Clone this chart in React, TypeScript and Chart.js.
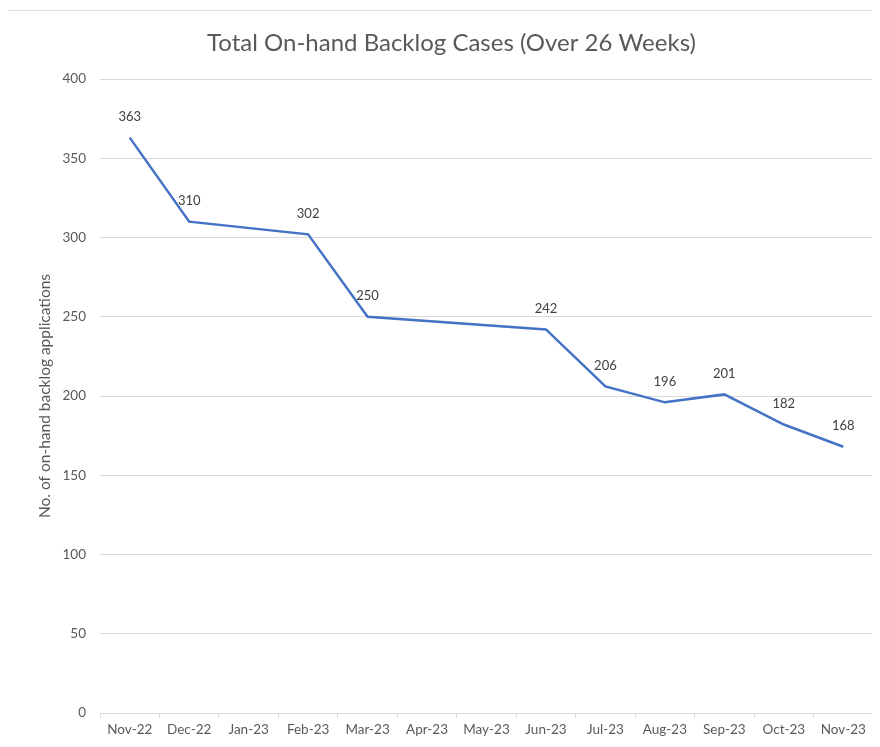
import React, { useEffect, useRef } from "react";
import { Chart, registerables } from "chart.js";

Chart.register(...registerables);

const months = ["Nov-22", "Dec-22", "Jan-23", "Feb-23", "Mar-23", "Apr-23", "May-23", "Jun-23", "Jul-23", "Aug-23", "Sep-23", "Oct-23", "Nov-23"];
const backlog: (number | null)[] = [363, 310, null, 302, 250, null, null, 242, 206, 196, 201, 182, 168];
const chartTitle = "Total On-hand Backlog Cases (Over 26 Weeks)";
const yTitle = "No. of on-hand backlog applications";

const FONT = "Lato, 'Open Sans', sans-serif";

const labelPlugin = {
  id: "pointLabels",
  afterDatasetsDraw(chart: any) {
    const ctx = chart.ctx;
    const meta = chart.getDatasetMeta(0);
    ctx.save();
    ctx.font = `13px ${FONT}`;
    ctx.fillStyle = "#404040";
    ctx.textAlign = "center";
    ctx.textBaseline = "middle";
    meta.data.forEach((el: any, i: number) => {
      const v = chart.data.datasets[0].data[i];
      if (v === null || v === undefined) return;
      ctx.fillText(String(v), el.x, el.y - 21);
    });
    ctx.restore();
  },
};

export default function App() {
  const ref = useRef<HTMLCanvasElement>(null);
  useEffect(() => {
    if (!ref.current) return;
    const chart = new Chart(ref.current, {
      type: "line",
      data: {
        labels: months,
        datasets: [
          {
            data: backlog,
            borderColor: "#4472C4",
            borderWidth: 2.5,
            pointRadius: 0,
            spanGaps: true,
            tension: 0,
            fill: false,
          },
        ],
      },
      options: {
        responsive: false,
        animation: false,
        layout: { padding: { left: 30, right: 7, top: 0, bottom: 0 } },
        plugins: {
          legend: { display: false },
          tooltip: { enabled: false },
          title: {
            display: true,
            text: chartTitle,
            color: "#595959",
            font: { family: FONT, size: 24, weight: "normal" },
            padding: { top: 28.6, bottom: 21.6 },
          },
        },
        scales: {
          x: {
            offset: true,
            grid: {
              display: true,
              offset: true,
              drawOnChartArea: false,
              drawTicks: true,
              tickLength: 5,
              color: "#d9d9d9",
            },
            border: { display: true, color: "#d9d9d9" },
            ticks: {
              color: "#595959",
              font: { family: FONT, size: 13.5 },
              maxRotation: 0,
              autoSkip: false,
              padding: 4,
            },
            afterFit(scale: any) {
              scale.height = 34;
            },
          },
          y: {
            min: 0,
            max: 400,
            ticks: {
              stepSize: 50,
              color: "#595959",
              font: { family: FONT, size: 13.5 },
              padding: 14,
            },
            grid: { color: "#d9d9d9", drawTicks: false },
            border: { display: false },
            title: {
              display: true,
              text: yTitle,
              color: "#595959",
              font: { family: FONT, size: 15.5, weight: "normal" },
              padding: { top: 6, bottom: 0 },
            },
            afterFit(scale: any) {
              scale.width = 70;
            },
          },
        },
      },
      plugins: [labelPlugin],
    });
    return () => chart.destroy();
  }, []);

  return (
    <div style={{ margin: -8, width: 880, height: 747, position: "relative", overflow: "hidden", background: "#fff" }}>
      <div style={{ position: "absolute", left: 7, top: 10, width: 900, height: 800, border: "1.5px solid #dcdcdc" }} />
      <canvas ref={ref} width={880} height={747} style={{ position: "absolute", left: 0, top: 0, display: "block" }} />
    </div>
  );
}
